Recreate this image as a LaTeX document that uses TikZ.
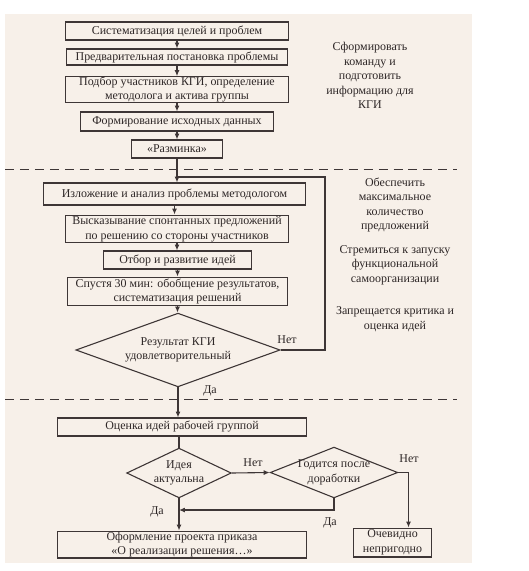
\documentclass[tikz,border=0pt]{standalone}
\usepackage{fontspec}
\setmainfont{Liberation Serif}
\usetikzlibrary{arrows.meta,positioning,shapes.geometric}
\definecolor{cInk}{HTML}{2E2727}
\definecolor{cLine}{HTML}{3E3636}
\definecolor{cPaper}{HTML}{F7F0E9}

\begin{document}
\begin{tikzpicture}[
  x=1bp, y=-1bp,
  every node/.style={font=\fontsize{12}{14.5}\selectfont, text=cInk},
  box/.style={draw=cLine, line width=1.1pt, align=center, inner sep=0pt},
  dec/.style={diamond, draw=cLine, line width=1.1pt, inner sep=0pt},
  dlab/.style={align=center, inner sep=0pt},
  side/.style={align=center, inner sep=0pt},
  lab/.style={inner sep=1pt},
  line/.style={draw=cLine, line width=1.1pt},
  arr/.style={line, -{Latex[length=6pt,width=5pt]}},
  sep/.style={draw=cLine, line width=0.9pt, dash pattern=on 9pt off 6pt},
]
\useasboundingbox (0,0) rectangle (529,571);
\fill[cPaper] (5,14) rectangle (472,563);

% ============================================== stage 1: preparation
\node[box, minimum width=223, minimum height=18] (s1) at (177,31) {Систематизация целей и проблем};
\node[box, minimum width=222, minimum height=16] (s2) at (177,57) {Предварительная постановка проблемы};
\node[box, minimum width=223, minimum height=25] (s3) at (177,89.5) {Подбор участников КГИ, определение\\методолога и актива группы};
\node[box, minimum width=193, minimum height=19] (s4) at (177,121.5) {Формирование исходных данных};
\node[box, minimum width=92, minimum height=18] (s5) at (177,149) {«Разминка»};
\node[side] (tA) at (370,75.5) {Сформировать\\команду и\\подготовить\\информацию для\\КГИ};

% ============================================== stage 2: the session
\node[box, minimum width=263, minimum height=22] (s6) at (174.5,194) {Изложение и анализ проблемы методологом};
\node[box, minimum width=224, minimum height=28] (s7) at (177,229) {Высказывание спонтанных предложений\\по решению со стороны участников};
\node[box, minimum width=149, minimum height=18] (s8) at (177.5,260) {Отбор и развитие идей};
\node[box, minimum width=221, minimum height=29] (s9) at (177.5,291.5) {Спустя 30 мин: обобщение результатов,\\систематизация решений};
\node[dec, minimum width=205, minimum height=74,
  label={[dlab]center:Результат КГИ\\удовлетворительный}] (d1) at (178,350) {};
\node[side] (tB) at (395,205) {Обеспечить\\максимальное\\количество\\предложений};
\node[side] (tC) at (395,265) {Стремиться к запуску\\функциональной\\самоорганизации};
\node[side] (tD) at (395,319) {Запрещается критика и\\оценка идей};

% ============================================== stage 3: evaluation
\node[box, minimum width=250, minimum height=18] (s10) at (182,427) {Оценка идей рабочей группой};
\node[dec, minimum width=105, minimum height=50,
  label={[dlab]center:Идея\\актуальна}] (d2) at (179,473) {};
\node[dec, minimum width=128, minimum height=51,
  label={[dlab]center:Годится после\\доработки}] (d3) at (334,472.5) {};
\node[box, minimum width=250, minimum height=27] (s11) at (182,544.5) {Оформление проекта приказа\\«О реализации решения…»};
\node[box, minimum width=79, minimum height=29] (s12) at (392.5,542.5) {Очевидно\\непригодно};

% separators
\draw[sep] (5,169) -- (457,169);
\draw[sep] (5,399) -- (457,399);

% connectors
\foreach \a/\b in {s1/s2,s2/s3,s3/s4,s4/s5,s5/s6,s6/s7,s7/s8,s8/s9,s9/d1}
  \draw[arr] (\a.south) -- (\a.south |- \b.north);
\coordinate (fbtop) at (325,177);
\coordinate (fbjoin) at (177,177);
\draw[line] (d1.east) -| (fbtop) -- (fbjoin);
\draw[arr] (d1.south) -- (d1.south |- s10.north);
\draw[line] (d2.north |- s10.south) -- (d2.north);
\draw[arr] (d2.east) -- (d3.west);
\draw[arr] (d3.east) -| ([xshift=16bp]s12.north);
\coordinate (mrg) at (179,510);
\draw[arr] (d3.south) |- (mrg);
\draw[arr] (d2.south) -- (d2.south |- s11.north);

% branch labels
\node[lab] (n1) at (287,340) {Нет};
\node[lab] (y1) at (210,391) {Да};
\node[lab] (n2) at (253,463) {Нет};
\node[lab] (n3) at (409,459) {Нет};
\node[lab] (y2) at (157,512) {Да};
\node[lab] (y3) at (330,523) {Да};
\end{tikzpicture}
\end{document}
